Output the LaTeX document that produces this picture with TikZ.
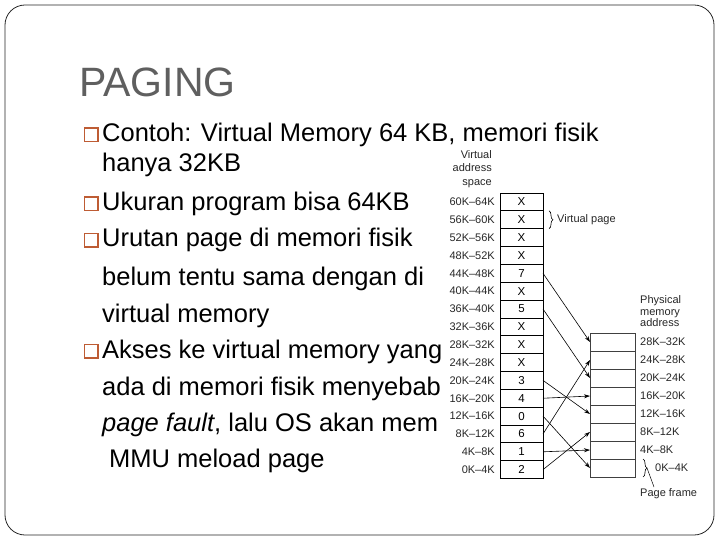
\documentclass[tikz,border=0pt]{standalone}
\usepackage{fontspec}
\setmainfont{Liberation Sans}
\usepackage{xcolor}
\usepackage{tikz}
\usetikzlibrary{arrows.meta, positioning, decorations.pathreplacing}
\definecolor{titlegray}{RGB}{95,95,95}
\definecolor{bulletbrown}{RGB}{190,92,52}
\tikzstyle{vcell} = [rectangle, draw, line width=0.8pt, minimum width=43pt, minimum height=17.85pt, inner sep=0pt, outer sep=0pt, font=\fontsize{11.5}{11.5}\selectfont]
\tikzstyle{pcell} = [rectangle, draw=black!75, line width=0.6pt, minimum width=45pt, minimum height=18pt, inner sep=0pt, outer sep=0pt]
\tikzstyle{addr} = [font=\fontsize{11}{11}\selectfont, text=black!85, inner sep=1pt]
\tikzstyle{celladdr} = [addr, label distance=4pt]
\tikzstyle{body} = [anchor=base west, inner sep=0pt, font=\fontsize{25.5}{30}\selectfont]
\tikzstyle{bulletbox} = [rectangle, draw=bulletbrown, line width=1.5pt, minimum size=13.5pt, inner sep=0pt]
\tikzstyle{arrow} = [line width=0.6pt, -{Stealth[length=6pt,width=4pt]}]
\tikzstyle{brace} = [line width=0.6pt, decorate, decoration={brace, amplitude=4pt}]

\begin{document}
\begin{tikzpicture}[x=1pt, y=-1pt]
\useasboundingbox (0,0) rectangle (720,540);

% Slide frame
\draw[rounded corners=20pt, line width=0.8pt, draw=black!85] (5,5) rectangle (714,535);

% Title and bullets
\node[body, text=titlegray, font=\fontsize{41}{41}\selectfont] (title) at (79,97) {PAGING};
\node[body] (l1) at (102,142) {Contoh: Virtual Memory 64 KB, memori fisik};
\node[body] (l2) at (102,172) {hanya 32KB};
\node[body] (l3) at (102,211) {Ukuran program bisa 64KB};
\node[body] (l4) at (102,247) {Urutan page di memori fisik};
\node[body] (l5) at (102,285) {belum tentu sama dengan di};
\node[body] (l6) at (102,322) {virtual memory};
\node[body] (l7) at (102,358) {Akses ke virtual memory yang};
\node[body] (l8) at (102,395) {ada di memori fisik menyebab};
\node[body] (l9) at (102,431) {\textit{page fault}, lalu OS akan mem};
\node[body] (l10) at (109,467) {MMU meload page};

\node[bulletbox] (b1) at (91,135) {};
\node[bulletbox] (b2) at (91,204) {};
\node[bulletbox] (b3) at (91,240) {};
\node[bulletbox] (b4) at (91,351) {};

% Virtual address space
\node[vcell, label={[celladdr]left:60K--64K}] (vp15) at (521.5,201.9) {X};
\node[vcell, below=0pt of vp15, label={[celladdr]left:56K--60K}] (vp14) {X};
\node[vcell, below=0pt of vp14, label={[celladdr]left:52K--56K}] (vp13) {X};
\node[vcell, below=0pt of vp13, label={[celladdr]left:48K--52K}] (vp12) {X};
\node[vcell, below=0pt of vp12, label={[celladdr]left:44K--48K}] (vp11) {7};
\node[vcell, below=0pt of vp11, label={[celladdr]left:40K--44K}] (vp10) {X};
\node[vcell, below=0pt of vp10, label={[celladdr]left:36K--40K}] (vp9) {5};
\node[vcell, below=0pt of vp9, label={[celladdr]left:32K--36K}] (vp8) {X};
\node[vcell, below=0pt of vp8, label={[celladdr]left:28K--32K}] (vp7) {X};
\node[vcell, below=0pt of vp7, label={[celladdr]left:24K--28K}] (vp6) {X};
\node[vcell, below=0pt of vp6, label={[celladdr]left:20K--24K}] (vp5) {3};
\node[vcell, below=0pt of vp5, label={[celladdr]left:16K--20K}] (vp4) {4};
\node[vcell, below=0pt of vp4, label={[celladdr]left:12K--16K}] (vp3) {0};
\node[vcell, below=0pt of vp3, label={[celladdr]left:8K--12K}] (vp2) {6};
\node[vcell, below=0pt of vp2, label={[celladdr]left:4K--8K}] (vp1) {1};
\node[vcell, below=0pt of vp1, label={[celladdr]left:0K--4K}] (vp0) {2};

\node[addr, align=right, font=\fontsize{11}{13.5}\selectfont, above left=4pt and 7pt of vp15.north west] (vhead) {Virtual\\address\\space};

\draw[brace] ([xshift=6pt]vp14.north east) -- ([xshift=6pt]vp14.south east);
\node[addr, right=13pt of vp14.east] (vpage) {Virtual page};

% Physical memory
\node[pcell, label={[celladdr]right:28K--32K}] (pf7) at (612.5,342) {};
\node[pcell, below=0pt of pf7, label={[celladdr]right:24K--28K}] (pf6) {};
\node[pcell, below=0pt of pf6, label={[celladdr]right:20K--24K}] (pf5) {};
\node[pcell, below=0pt of pf5, label={[celladdr]right:16K--20K}] (pf4) {};
\node[pcell, below=0pt of pf4, label={[celladdr]right:12K--16K}] (pf3) {};
\node[pcell, below=0pt of pf3, label={[celladdr]right:8K--12K}] (pf2) {};
\node[pcell, below=0pt of pf2, label={[celladdr]right:4K--8K}] (pf1) {};
\node[pcell, below=0pt of pf1, label={[addr, label distance=19pt]right:0K--4K}] (pf0) {};

\node[addr, align=left, font=\fontsize{11}{11.5}\selectfont, above right=5pt and 4pt of pf7.north east] (phead) {Physical\\memory\\address};

\draw[brace] ([xshift=8pt]pf0.north east) -- ([xshift=8pt]pf0.south east);
\node[addr, below right=10pt and 4pt of pf0.south east] (pframe) {Page frame};
\draw[line width=0.5pt] ([xshift=12pt]pf0.east) -- ([xshift=15pt]pframe.north west);

% Page mapping
\draw[arrow] (vp11.east) -- (pf7.west);
\draw[arrow] (vp9.east) -- (pf5.west);
\draw[arrow] (vp5.east) -- (pf3.west);
\draw[arrow] (vp4.east) -- (pf4.west);
\draw[arrow] (vp3.east) -- (pf0.west);
\draw[arrow] (vp2.east) -- (pf6.west);
\draw[arrow] (vp1.east) -- (pf1.west);
\draw[arrow] (vp0.east) -- (pf2.west);

\end{tikzpicture}
\end{document}
